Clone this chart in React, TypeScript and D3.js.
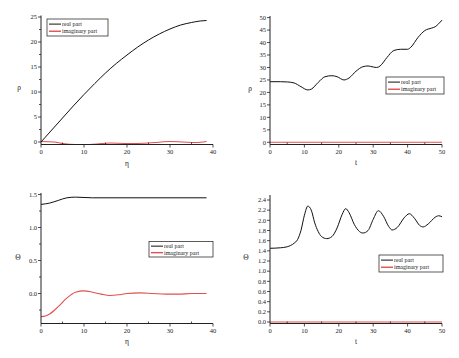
import React from "react";
import * as d3 from "d3";

// ---------- data ----------
const p1Eta = [0, 2.5, 5, 7.5, 10, 12.5, 15, 17.5, 20, 22.5, 25, 27.5, 30, 32.5, 35, 37, 38.5];
const p1Real = [0, 2.4, 4.8, 7.2, 9.5, 11.7, 13.8, 15.7, 17.4, 19.0, 20.4, 21.6, 22.6, 23.4, 23.9, 24.2, 24.3];
const p1ImagEta = [0, 3, 5, 8, 10, 13, 16, 20, 25, 28, 30, 33, 36, 38.5];
const p1Imag = [0.1, 0.0, -0.3, -0.5, -0.5, -0.4, -0.2, -0.3, -0.2, 0.0, 0.1, 0.0, -0.1, 0.1];

const p2T = [0, 3, 5, 7, 9, 11, 12, 14, 16, 18, 19.5, 21.5, 23, 25, 27, 28.5, 30, 31, 32, 34, 36, 38, 40, 41, 43, 45, 47, 48, 49, 50];
const p2Real = [24.3, 24.3, 24.2, 23.8, 22.3, 21.0, 21.3, 24.0, 26.3, 26.7, 26.3, 25.0, 25.8, 28.5, 30.3, 30.6, 30.2, 30.0, 30.6, 34.0, 36.8, 37.3, 37.3, 38.2, 42.0, 44.8, 45.8, 46.3, 47.5, 49.0];
const p2ImagT = [0, 50];
const p2Imag = [0, 0];

const p3Eta = [0, 2, 4, 6, 8, 12, 20, 30, 38.5];
const p3Real = [1.35, 1.37, 1.41, 1.45, 1.46, 1.45, 1.45, 1.45, 1.45];
const p3ImagEta = [0, 1, 2, 4, 6, 8, 10, 12, 14, 16, 18, 20, 23, 26, 29, 32, 35, 38.5];
const p3Imag = [-0.35, -0.34, -0.31, -0.2, -0.07, 0.02, 0.04, 0.02, -0.01, -0.03, -0.02, 0.0, 0.01, 0.0, -0.01, -0.01, 0.0, 0.0];

const p4T = [0, 3, 5, 7, 8, 9, 10, 11, 12, 13, 14, 15, 16.5, 18, 19.5, 21, 22, 23, 24.5, 26, 27, 28.5, 30, 31.5, 33, 34.5, 35.5, 37, 39, 40.5, 42, 43.5, 44.5, 46, 48, 49, 50];
const p4Real = [1.45, 1.46, 1.48, 1.55, 1.62, 1.8, 2.1, 2.28, 2.2, 1.95, 1.78, 1.68, 1.64, 1.68, 1.85, 2.12, 2.23, 2.15, 1.92, 1.78, 1.75, 1.8, 2.02, 2.19, 2.08, 1.88, 1.81, 1.86, 2.05, 2.13, 2.04, 1.9, 1.87, 1.93, 2.06, 2.09, 2.07];
const p4ImagT = [0, 50];
const p4Imag = [0, 0];

const seriesNames = ["real part", "imaginary part"];
const RED = "#e0504f";
const FONT = "'Liberation Serif', 'DejaVu Serif', serif";

type PanelProps = {
  xRange: [number, number];
  xDomain: [number, number];
  yRange: [number, number];
  yDomain: [number, number];
  axisYBottom: number;
  axisYTop: number;
  xTicks: number[];
  xMinor: number[];
  yTicks: number[];
  yMinor: number[];
  yFmt: (v: number) => string;
  realX: number[];
  realY: number[];
  imagX: number[];
  imagY: number[];
  yLabel: string;
  yLabelPos: [number, number];
  xLabel: string;
  xLabelPos: [number, number];
  legend: [number, number, number, number];
};

function Panel(p: PanelProps) {
  const x = d3.scaleLinear().domain(p.xDomain).range(p.xRange);
  const y = d3.scaleLinear().domain(p.yDomain).range(p.yRange);
  const line = d3
    .line<[number, number]>()
    .x((d) => x(d[0]))
    .y((d) => y(d[1]))
    .curve(d3.curveMonotoneX);
  const real = p.realX.map((v, i) => [v, p.realY[i]] as [number, number]);
  const imag = p.imagX.map((v, i) => [v, p.imagY[i]] as [number, number]);
  const x0 = p.xRange[0];
  const [lx, ly, lw, lh] = p.legend;
  return (
    <g>
      <path d={line(imag) || ""} fill="none" stroke={RED} strokeWidth={1.1} />
      <path d={line(real) || ""} fill="none" stroke="#111" strokeWidth={1} />
      {/* axes */}
      <line x1={x0} x2={x0} y1={p.axisYTop} y2={p.axisYBottom} stroke="#222" strokeWidth={1} />
      <line x1={x0} x2={p.xRange[1]} y1={p.axisYBottom} y2={p.axisYBottom} stroke="#222" strokeWidth={1} />
      {p.xTicks.map((t) => (
        <g key={"xt" + t}>
          <line x1={x(t)} x2={x(t)} y1={p.axisYBottom} y2={p.axisYBottom + 3} stroke="#222" strokeWidth={0.8} />
          <text x={x(t)} y={p.axisYBottom + 9} fontSize={6.5} fontFamily={FONT} textAnchor="middle" fill="#222">
            {t}
          </text>
        </g>
      ))}
      {p.xMinor.map((t) => (
        <line key={"xm" + t} x1={x(t)} x2={x(t)} y1={p.axisYBottom} y2={p.axisYBottom - 2} stroke="#222" strokeWidth={0.8} />
      ))}
      {p.yTicks.map((t) => (
        <g key={"yt" + t}>
          <line x1={x0 - 3} x2={x0} y1={y(t)} y2={y(t)} stroke="#222" strokeWidth={0.8} />
          <text x={x0 - 4} y={y(t) + 2.2} fontSize={6.5} fontFamily={FONT} textAnchor="end" fill="#222">
            {p.yFmt(t)}
          </text>
        </g>
      ))}
      {p.yMinor.map((t) => (
        <line key={"ym" + t} x1={x0 - 2} x2={x0} y1={y(t)} y2={y(t)} stroke="#222" strokeWidth={0.8} />
      ))}
      <text x={p.yLabelPos[0]} y={p.yLabelPos[1]} fontSize={7.5} fontFamily={FONT} textAnchor="middle" fill="#222">
        {p.yLabel}
      </text>
      <text x={p.xLabelPos[0]} y={p.xLabelPos[1]} fontSize={7.5} fontFamily={FONT} textAnchor="middle" fill="#222">
        {p.xLabel}
      </text>
      {/* legend */}
      <rect x={lx} y={ly} width={lw} height={lh} fill="white" stroke="#333" strokeWidth={0.8} />
      <line x1={lx + 2} x2={lx + 14} y1={ly + lh * 0.3} y2={ly + lh * 0.3} stroke="#111" strokeWidth={1} />
      <line x1={lx + 2} x2={lx + 14} y1={ly + lh * 0.72} y2={ly + lh * 0.72} stroke={RED} strokeWidth={1.4} />
      <text x={lx + 15} y={ly + lh * 0.3 + 2} fontSize={6} fontFamily={FONT} fill="#222">
        {seriesNames[0]}
      </text>
      <text x={lx + 15} y={ly + lh * 0.72 + 2} fontSize={6} fontFamily={FONT} fill="#222">
        {seriesNames[1]}
      </text>
    </g>
  );
}

const range = (a: number, b: number, s: number) => d3.range(a, b + s / 2, s);

export default function App() {
  const intFmt = (v: number) => String(v);
  const f1 = d3.format(".1f");
  return (
    <svg
      width={459}
      height={358}
      style={{ position: "absolute", left: 0, top: 0, background: "white" }}
    >
      <Panel
        xRange={[41, 213]}
        xDomain={[0, 40]}
        yRange={[142, 17]}
        yDomain={[0, 25]}
        axisYBottom={144.5}
        axisYTop={15.5}
        xTicks={range(0, 40, 10)}
        xMinor={range(5, 35, 10)}
        yTicks={range(0, 25, 5)}
        yMinor={range(2.5, 22.5, 5)}
        yFmt={intFmt}
        realX={p1Eta}
        realY={p1Real}
        imagX={p1ImagEta}
        imagY={p1Imag}
        yLabel="ρ"
        yLabelPos={[19, 90]}
        xLabel="η"
        xLabelPos={[127, 166]}
        legend={[47, 19, 61, 17]}
      />
      <Panel
        xRange={[270, 442]}
        xDomain={[0, 50]}
        yRange={[142.3, 17.6]}
        yDomain={[0, 50]}
        axisYBottom={144.5}
        axisYTop={16}
        xTicks={range(0, 50, 10)}
        xMinor={range(5, 45, 10)}
        yTicks={range(0, 50, 5)}
        yMinor={[]}
        yFmt={intFmt}
        realX={p2T}
        realY={p2Real}
        imagX={p2ImagT}
        imagY={p2Imag}
        yLabel="ρ"
        yLabelPos={[250, 91]}
        xLabel="t"
        xLabelPos={[356, 165]}
        legend={[386, 77, 58, 17]}
      />
      <Panel
        xRange={[41, 213]}
        xDomain={[0, 40]}
        yRange={[293.5, 194.5]}
        yDomain={[0, 1.5]}
        axisYBottom={323.5}
        axisYTop={193}
        xTicks={range(0, 40, 10)}
        xMinor={range(5, 35, 10)}
        yTicks={range(0, 1.5, 0.5)}
        yMinor={[-0.25, 0.25, 0.75, 1.25]}
        yFmt={f1}
        realX={p3Eta}
        realY={p3Real}
        imagX={p3ImagEta}
        imagY={p3Imag}
        yLabel="Θ"
        yLabelPos={[18, 260]}
        xLabel="η"
        xLabelPos={[127, 344]}
        legend={[149, 241.5, 64, 15.5]}
      />
      <Panel
        xRange={[270, 442]}
        xDomain={[0, 50]}
        yRange={[322, 200]}
        yDomain={[0, 2.4]}
        axisYBottom={323.5}
        axisYTop={195}
        xTicks={range(0, 50, 10)}
        xMinor={range(5, 45, 10)}
        yTicks={range(0, 2.4, 0.2)}
        yMinor={[]}
        yFmt={f1}
        realX={p4T}
        realY={p4Real}
        imagX={p4ImagT}
        imagY={p4Imag}
        yLabel="Θ"
        yLabelPos={[246, 260]}
        xLabel="t"
        xLabelPos={[356, 344]}
        legend={[379, 255, 64, 17]}
      />
    </svg>
  );
}
